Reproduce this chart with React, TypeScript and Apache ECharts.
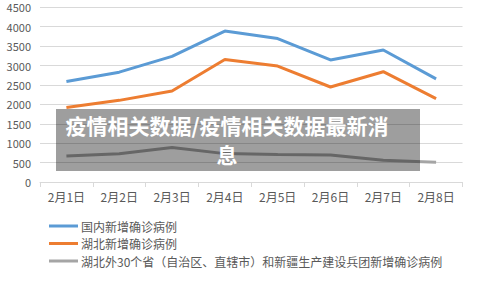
import React, { useEffect, useRef } from "react";
import * as echarts from "echarts";

const categories = ["2月1日", "2月2日", "2月3日", "2月4日", "2月5日", "2月6日", "2月7日", "2月8日"];
const national = [2590, 2829, 3235, 3887, 3694, 3143, 3399, 2656];
const hubei = [1921, 2103, 2345, 3156, 2987, 2447, 2841, 2147];
const outside = [669, 726, 890, 731, 707, 696, 558, 509];
const seriesNames = [
  "国内新增确诊病例",
  "湖北新增确诊病例",
  "湖北外30个省（自治区、直辖市）和新疆生产建设兵团新增确诊病例",
];
const colors = ["#5B9BD5", "#ED7D31", "#A5A5A5"];
const overlayLines = ["疫情相关数据/疫情相关数据最新消", "息"];

export default function App() {
  const ref = useRef<HTMLDivElement>(null);
  useEffect(() => {
    if (!ref.current) return;
    const chart = echarts.init(ref.current, undefined, { renderer: "svg" });
    const font = "'Noto Sans CJK SC', 'Noto Sans', sans-serif";
    const data = [national, hubei, outside];
    chart.setOption({
      animation: false,
      backgroundColor: "#ffffff",
      textStyle: { fontFamily: font },
      grid: { left: 40, right: 14.5, top: 7.3, bottom: 99 },
      xAxis: {
        type: "category",
        data: categories,
        boundaryGap: true,
        axisLine: { lineStyle: { color: "#d9d9d9", width: 1 } },
        axisTick: { show: true, length: 5, lineStyle: { color: "#d9d9d9" } },
        axisLabel: { color: "#595959", fontSize: 12, margin: 8, fontFamily: font },
      },
      yAxis: {
        type: "value",
        min: 0,
        max: 4500,
        interval: 500,
        axisLine: { show: false },
        axisTick: { show: false },
        splitLine: { lineStyle: { color: "#d9d9d9", width: 1 } },
        axisLabel: {
          color: "#595959",
          fontSize: 11,
          margin: 9,
          fontFamily: font,
          formatter: (v: number) => String(v),
        },
      },
      legend: {
        orient: "vertical",
        left: 44,
        top: 215,
        icon: "rect",
        itemWidth: 29,
        itemHeight: 3,
        itemGap: 5.5,
        textStyle: { color: "#595959", fontSize: 12, fontFamily: font, padding: [0, 0, 0, -2] },
        data: seriesNames,
      },
      series: seriesNames.map((name, i) => ({
        name,
        type: "line",
        data: data[i],
        symbol: "none",
        lineStyle: { color: colors[i], width: 3 },
        itemStyle: { color: colors[i] },
      })),
      graphic: [
        {
          type: "rect",
          z: 100,
          shape: { x: 56, y: 109, width: 364, height: 62 },
          style: { fill: "rgba(0,0,0,0.38)" },
        },
        {
          type: "text",
          z: 101,
          x: 227,
          y: 139.5,
          style: {
            text: overlayLines.join("\n"),
            fill: "#ffffff",
            font: `bold 21px ${font}`,
            lineHeight: 28.5,
            align: "center",
            verticalAlign: "middle",
          },
        },
      ],
    });
    return () => chart.dispose();
  }, []);
  return (
    <div
      ref={ref}
      style={{ position: "fixed", left: 0, top: 0, width: 477, height: 281 }}
    />
  );
}
